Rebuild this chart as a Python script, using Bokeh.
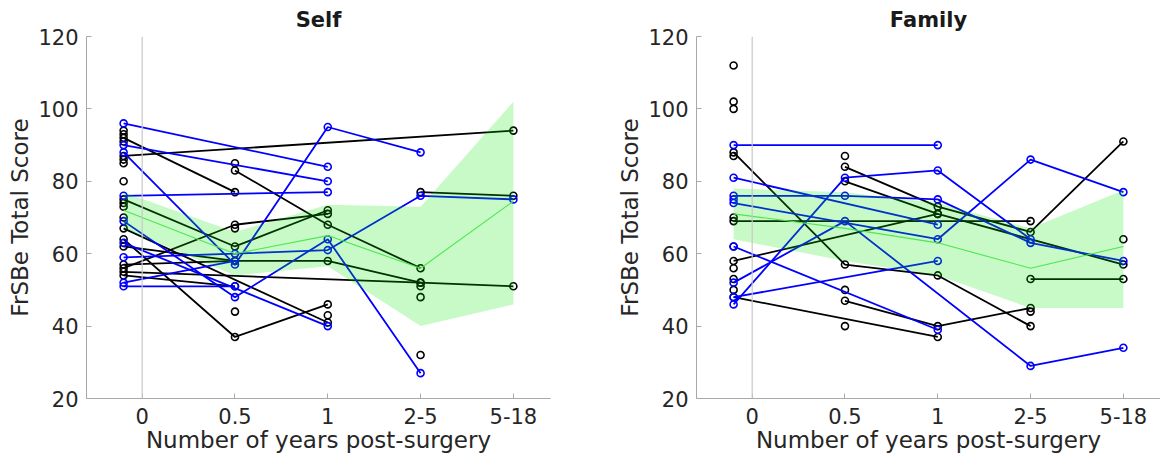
from bokeh.plotting import figure
from bokeh.layouts import row
from bokeh.models import Span, FixedTicker, Range1d
from bokeh.embed import file_html
from bokeh.resources import INLINE

# ---------------- data ----------------
tick_labels = ["0", "0.5", "1", "2-5", "5-18"]
# time points of each trajectory: pre-surgery, 0.5, 1, 2-5, 5-18
N = None

self_blue = [
    [96, N, 84, N, N],
    [90, N, 80, N, N],
    [88, 57, 95, 88, N],
    [76, N, 77, N, N],
    [69, 48, 64, 27, N],
    [63, N, 40, N, N],
    [59, 60, 61, 76, 75],
    [52, 58, N, N, N],
    [51, 51, N, N, N],
]
self_black = [
    [92, 77, N, N, N],
    [87, N, N, N, 94],
    [75, 62, 72, N, N],
    [56, 68, 71, N, N],
    [57, 58, 58, 52, N],
    [62, 58, N, N, N],
    [67, N, 41, N, N],
    [64, 37, 46, N, N],
    [55, N, N, 52, 51],
    [54, 51, N, N, N],
    [N, N, N, 77, 76],
    [N, 83, 68, 56, N],
    [94, N, N, N, N], [93, N, N, N, N], [91, N, N, N, N],
    [86, N, N, N, N], [85, N, N, N, N], [80, N, N, N, N],
    [74, N, N, N, N], [73, N, N, N, N], [70, N, N, N, N],
    [N, 85, N, N, N], [N, 67, N, N, N], [N, 44, N, N, N],
    [N, N, 43, N, N],
    [N, N, N, 51, N], [N, N, N, 48, N], [N, N, N, 32, N],
]
self_mean = [72, 60, 65, 56, 74.5]
self_upper = [77, 66, 73.5, 73, 102]
self_lower = [67, 54, 56.5, 40, 46]

family_blue = [
    [90, N, 90, N, N],
    [81, N, 68, N, N],
    [76, 76, 75, 63, 58],
    [74, N, 64, 86, 77],
    [46, 81, 83, 64, N],
    [62, N, 39, N, N],
    [48, N, 58, N, N],
    [52, 69, N, 29, 34],
    [75, N, N, N, N],
]
family_black = [
    [88, 57, 54, 40, N],
    [N, 84, 73, 66, 91],
    [69, N, N, 69, N],
    [N, 80, 71, N, 57],
    [58, N, 71, N, N],
    [48, N, 37, N, N],
    [N, 47, 40, 45, N],
    [N, N, N, 53, 53],
    [112, N, N, N, N], [102, N, N, N, N], [100, N, N, N, N],
    [87, N, N, N, N], [70, N, N, N, N], [62, N, N, N, N],
    [56, N, N, N, N], [53, N, N, N, N], [50, N, N, N, N],
    [N, 87, N, N, N], [N, 50, N, N, N], [N, 40, N, N, N],
    [N, N, N, 44, N], [N, N, N, N, 64],
]
family_mean = [71, 67, 63, 56, 62]
family_upper = [78, 77, 74, 67, 77.5]
family_lower = [64, 58, 54, 45, 45]

x_title = "Number of years post-surgery"
y_title = "FrSBe Total Score"

# ---------------- style ----------------
FONT = "DejaVu Sans"
TXT = "#262626"
AX = "#a8a8a8"
PRE_X = -0.2
X_POS = [PRE_X] + list(range(1, len(tick_labels)))


def make_panel(title, blues, blacks, mean, upper, lower, border_left,
               border_right):
    p = figure(frame_width=464, frame_height=362,
               min_border_left=border_left,
               min_border_right=border_right, min_border_top=30,
               min_border_bottom=60, output_backend="svg",
               toolbar_location=None, x_range=Range1d(-0.6, 4.4),
               y_range=Range1d(20, 120))
    p.title.text = title
    p.title.align = "center"
    p.title.text_font = FONT
    p.title.text_font_size = "21px"
    p.title.text_font_style = "bold"
    p.title.text_color = "#1a1a1a"
    p.outline_line_color = None
    p.xgrid.visible = False
    p.ygrid.visible = False
    p.background_fill_color = "white"
    p.border_fill_color = "white"

    p.add_layout(Span(location=0, dimension="height",
                      line_color="#c8c8c8", line_width=1.2))

    def draw(series, color):
        for s in series:
            xs = [X_POS[i] for i, v in enumerate(s) if v is not None]
            ys = [v for v in s if v is not None]
            if len(xs) > 1:
                p.line(xs, ys, line_color=color, line_width=1.8)
            p.scatter(xs, ys, marker="circle", size=7, fill_color=None,
                      line_color=color, line_width=1.6)

    draw(blacks, "black")
    draw(blues, "#0000ff")

    p.varea(x=X_POS, y1=lower, y2=upper, fill_color="#00e600",
            fill_alpha=0.22)
    p.line(X_POS, mean, line_color="#4fe64f", line_width=1.1)

    for ax in (p.xaxis[0], p.yaxis[0]):
        ax.axis_line_color = AX
        ax.major_tick_line_color = AX
        ax.minor_tick_line_color = None
        ax.major_tick_in = 5
        ax.major_tick_out = 0
        ax.major_label_text_font = FONT
        ax.major_label_text_font_size = "21px"
        ax.major_label_text_color = TXT
        ax.axis_label_text_font = FONT
        ax.axis_label_text_font_size = "23px"
        ax.axis_label_text_font_style = "normal"
        ax.axis_label_text_color = TXT

    p.xaxis.ticker = FixedTicker(ticks=list(range(len(tick_labels))))
    p.xaxis.major_label_overrides = {i: t for i, t in enumerate(tick_labels)}
    p.xaxis.major_label_standoff = 9
    p.xaxis.axis_label = x_title
    p.xaxis.axis_label_standoff = 0

    p.yaxis.ticker = FixedTicker(ticks=[20, 40, 60, 80, 100, 120])
    p.yaxis.major_label_standoff = 8
    p.yaxis.axis_label = y_title
    p.yaxis.axis_label_standoff = 2
    return p


p1 = make_panel("Self", self_blue, self_black, self_mean, self_upper,
                self_lower, 86, 64)
p2 = make_panel("Family", family_blue, family_black, family_mean,
                family_upper, family_lower, 79, 0)

layout = row(p1, p2)
open("out.html", "w").write(file_html(layout, INLINE))
